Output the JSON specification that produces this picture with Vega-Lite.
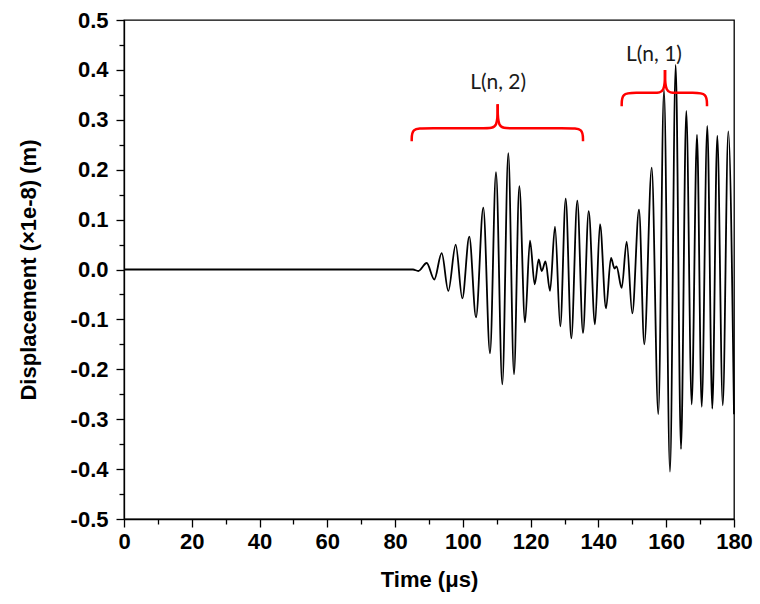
{
  "$schema": "https://vega.github.io/schema/vega-lite/v6.json",
  "width": 610,
  "height": 499,
  "autosize": {"type": "none"},
  "padding": {"left": 124, "top": 20, "right": 26, "bottom": 85},
  "background": "white",
  "config": {
    "view": {"stroke": "#000", "strokeWidth": 1.3},
    "axis": {
      "grid": false,
      "domainColor": "#000",
      "tickColor": "#000",
      "labelColor": "#000",
      "titleColor": "#000",
      "labelFont": "Liberation Sans",
      "titleFont": "Liberation Sans",
      "labelFontWeight": "bold",
      "titleFontWeight": "bold",
      "labelFontSize": 22,
      "titleFontSize": 22,
      "domainWidth": 1.3,
      "tickWidth": 1.3
    }
  },
  "datasets": {
    "signal": [
      {"t": 0, "v": 0}, {"t": 85.28, "v": 0}, {"t": 86.84, "v": -0.003}, {"t": 89.32, "v": 0.013},
      {"t": 91.56, "v": -0.02}, {"t": 93.75, "v": 0.033}, {"t": 95.7, "v": -0.043}, {"t": 97.88, "v": 0.05},
      {"t": 99.83, "v": -0.058}, {"t": 101.89, "v": 0.066}, {"t": 103.87, "v": -0.096}, {"t": 106.02, "v": 0.124},
      {"t": 108.0, "v": -0.168}, {"t": 109.77, "v": 0.195}, {"t": 111.63, "v": -0.23}, {"t": 113.4, "v": 0.233},
      {"t": 115.08, "v": -0.21}, {"t": 116.65, "v": 0.167}, {"t": 118.33, "v": -0.106}, {"t": 119.8, "v": 0.058},
      {"t": 121.19, "v": -0.03}, {"t": 122.37, "v": 0.02}, {"t": 123.26, "v": -0.003}, {"t": 124.38, "v": 0.016},
      {"t": 125.71, "v": -0.043}, {"t": 127.18, "v": 0.086}, {"t": 128.74, "v": -0.114}, {"t": 130.34, "v": 0.142},
      {"t": 131.99, "v": -0.138}, {"t": 133.76, "v": 0.138}, {"t": 135.44, "v": -0.127}, {"t": 137.12, "v": 0.117},
      {"t": 138.98, "v": -0.11}, {"t": 140.46, "v": 0.091}, {"t": 142.23, "v": -0.078}, {"t": 143.7, "v": 0.023},
      {"t": 144.75, "v": 0.002}, {"t": 145.34, "v": 0.006}, {"t": 146.86, "v": -0.037}, {"t": 148.33, "v": 0.056},
      {"t": 149.99, "v": -0.088}, {"t": 151.97, "v": 0.12}, {"t": 153.53, "v": -0.15}, {"t": 155.72, "v": 0.204},
      {"t": 157.66, "v": -0.29}, {"t": 159.34, "v": 0.36}, {"t": 161.11, "v": -0.405}, {"t": 162.79, "v": 0.41},
      {"t": 164.36, "v": -0.36}, {"t": 165.92, "v": 0.318}, {"t": 167.52, "v": -0.27}, {"t": 169.08, "v": 0.27},
      {"t": 170.47, "v": -0.275}, {"t": 172.12, "v": 0.288}, {"t": 173.6, "v": -0.279}, {"t": 175.07, "v": 0.268},
      {"t": 176.69, "v": -0.272}, {"t": 178.32, "v": 0.277}, {"t": 180, "v": -0.29}
    ],
    "braces": [
      {"half": "a", "i": 0, "t": 84.9, "v": 0.257}, {"half": "a", "i": 1, "t": 84.9, "v": 0.283},
      {"half": "a", "i": 2, "t": 88.9, "v": 0.283}, {"half": "a", "i": 3, "t": 107.3, "v": 0.283},
      {"half": "a", "i": 4, "t": 110.27, "v": 0.283}, {"half": "a", "i": 5, "t": 110.27, "v": 0.331},
      {"half": "b", "i": 0, "t": 135.44, "v": 0.257}, {"half": "b", "i": 1, "t": 135.44, "v": 0.283},
      {"half": "b", "i": 2, "t": 131.44, "v": 0.283}, {"half": "b", "i": 3, "t": 113.27, "v": 0.283},
      {"half": "b", "i": 4, "t": 110.27, "v": 0.283}, {"half": "b", "i": 5, "t": 110.27, "v": 0.331},
      {"half": "c", "i": 0, "t": 146.86, "v": 0.327}, {"half": "c", "i": 1, "t": 146.86, "v": 0.354},
      {"half": "c", "i": 2, "t": 150.86, "v": 0.354}, {"half": "c", "i": 3, "t": 156.64, "v": 0.354},
      {"half": "c", "i": 4, "t": 159.64, "v": 0.354}, {"half": "c", "i": 5, "t": 159.64, "v": 0.4},
      {"half": "d", "i": 0, "t": 172.03, "v": 0.327}, {"half": "d", "i": 1, "t": 172.03, "v": 0.354},
      {"half": "d", "i": 2, "t": 168.03, "v": 0.354}, {"half": "d", "i": 3, "t": 162.64, "v": 0.354},
      {"half": "d", "i": 4, "t": 159.64, "v": 0.354}, {"half": "d", "i": 5, "t": 159.64, "v": 0.4}
    ],
    "labels": [
      {"label": "L(n, 2)", "t": 110.4, "v": 0.373},
      {"label": "L(n, 1)", "t": 156.4, "v": 0.43}
    ]
  },
  "layer": [
    {
      "data": {"name": "signal"},
      "mark": {"type": "line", "color": "#000", "strokeWidth": 1.8, "interpolate": "monotone"},
      "encoding": {
        "x": {
          "field": "t", "type": "quantitative",
          "scale": {"domain": [0, 180], "nice": false, "zero": false},
          "axis": {
            "orient": "bottom",
            "values": [0, 20, 40, 60, 80, 100, 120, 140, 160, 180],
            "tickSize": 8, "labelPadding": 4, "labelFlush": false,
            "title": "Time (μs)", "titlePadding": 17
          }
        },
        "y": {
          "field": "v", "type": "quantitative",
          "scale": {"domain": [-0.5, 0.5], "nice": false, "zero": false},
          "axis": {
            "orient": "left",
            "values": [-0.5, -0.4, -0.3, -0.2, -0.1, 0, 0.1, 0.2, 0.3, 0.4, 0.5],
            "labelExpr": "(datum.value < -0.001 ? '-' : '') + format(abs(datum.value), '.1f')",
            "tickSize": 8, "labelPadding": 8, "labelFlush": false,
            "title": "Displacement (×1e-8) (m)", "titlePadding": 30
          }
        }
      }
    },
    {
      "data": {"name": "braces"},
      "mark": {"type": "line", "color": "#ff0000", "strokeWidth": 2.5, "interpolate": "basis"},
      "encoding": {
        "x": {"field": "t", "type": "quantitative", "axis": null},
        "y": {"field": "v", "type": "quantitative", "axis": null},
        "detail": {"field": "half"},
        "order": {"field": "i"}
      }
    },
    {
      "data": {"name": "labels"},
      "mark": {"type": "text", "font": "Lato", "fontSize": 21, "color": "#1a1a1a"},
      "encoding": {
        "x": {
          "field": "t", "type": "quantitative",
          "axis": {
            "orient": "bottom",
            "values": [10, 30, 50, 70, 90, 110, 130, 150, 170],
            "tickSize": 5, "labels": false, "domain": false, "title": null
          }
        },
        "y": {
          "field": "v", "type": "quantitative",
          "axis": {
            "orient": "left",
            "values": [-0.45, -0.35, -0.25, -0.15, -0.05, 0.05, 0.15, 0.25, 0.35, 0.45],
            "tickSize": 5, "labels": false, "domain": false, "title": null
          }
        },
        "text": {"field": "label"}
      }
    }
  ],
  "resolve": {"axis": {"x": "independent", "y": "independent"}}
}
